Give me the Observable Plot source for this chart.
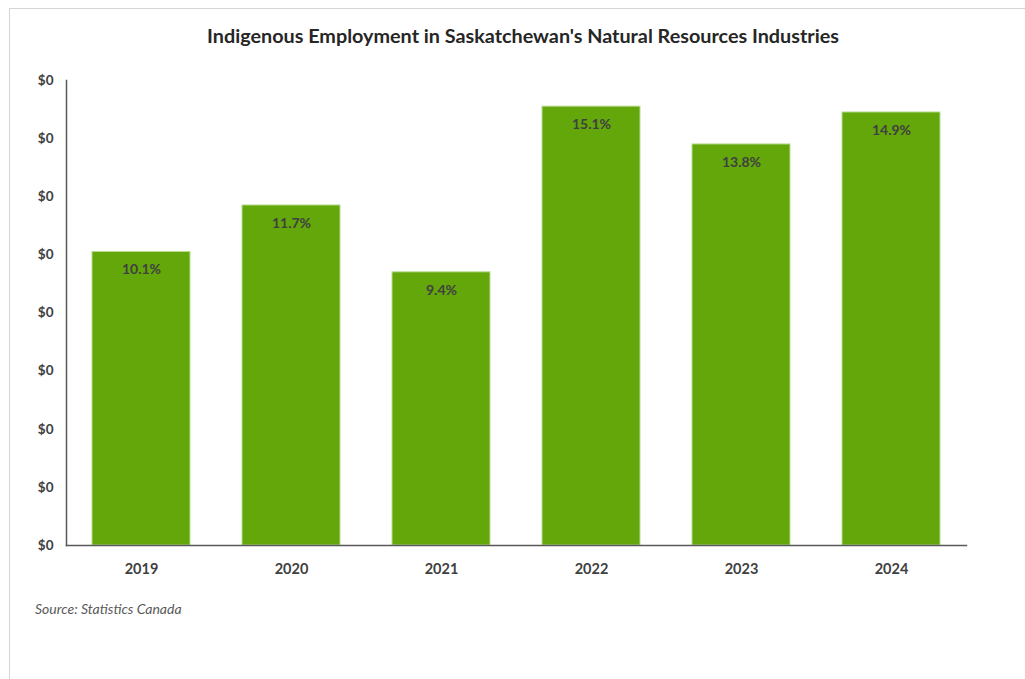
<!DOCTYPE html>
<html>
<head>
<meta charset="utf-8">
<script src="https://cdn.jsdelivr.net/npm/d3@7"></script>
<script src="https://cdn.jsdelivr.net/npm/@observablehq/plot@0.6"></script>
<style>
  body { margin: 0; background: #fff; font-family: Lato, "Open Sans", sans-serif; }
  #wrap { position: relative; width: 1025px; height: 679px; overflow: hidden; background: #fff; }
  #frame { position: absolute; left: 9px; top: 8px; width: 1040px; height: 690px; border: 1px solid #d4d4d4; box-sizing: border-box; }
  #title { position: absolute; left: 0; width: 1046px; top: 23px; text-align: center; font-size: 19.8px; font-weight: bold; color: #262626; }
  #chart { position: absolute; left: 0; top: 60px; }
  #caption { position: absolute; left: 35px; top: 600px; font-size: 14px; font-style: italic; color: #595959; }
</style>
</head>
<body>
<div id="wrap">
  <div id="frame"></div>
  <div id="title">Indigenous Employment in Saskatchewan's Natural Resources Industries</div>
  <div id="chart"></div>
  <div id="caption">Source: Statistics Canada</div>
</div>
<script>
const years = ["2019", "2020", "2021", "2022", "2023", "2024"];
const shares = [0.101, 0.117, 0.094, 0.151, 0.138, 0.149];
const yTicks = [0, 0.02, 0.04, 0.06, 0.08, 0.10, 0.12, 0.14, 0.16];

const data = years.map((year, i) => ({year, share: shares[i]}));

const chart = Plot.plot({
  width: 1025,
  height: 540,
  marginLeft: 66,
  marginRight: 59,
  marginTop: 20,
  marginBottom: 55,
  style: {fontFamily: "Lato, 'Open Sans', sans-serif", background: "transparent"},
  x: {domain: years, paddingInner: 0.35, paddingOuter: 0.175, label: null},
  y: {domain: [0, 0.16], label: null},
  marks: [
    Plot.barY(data, {x: "year", y: "share", fill: "#63A70A", stroke: "#b8dd8f", strokeWidth: 1}),
    Plot.text(data, {x: "year", y: "share", text: d => d3.format(".1%")(d.share), dy: 18, fill: "#404040", fontWeight: "bold", fontSize: 14}),
    Plot.axisY({ticks: yTicks, tickFormat: d3.format("$.0f"), tickSize: 0, tickPadding: 13, fill: "#404040", fontWeight: "bold", fontSize: 13.5, label: null}),
    Plot.axisX({tickSize: 0, tickPadding: 18, fill: "#404040", fontWeight: "bold", fontSize: 14.5, label: null}),
    Plot.frame({anchor: "left", stroke: "#595959", strokeWidth: 1.5}),
    Plot.frame({anchor: "bottom", stroke: "#595959", strokeWidth: 1.5})
  ]
});
document.getElementById("chart").appendChild(chart);
</script>
</body>
</html>
